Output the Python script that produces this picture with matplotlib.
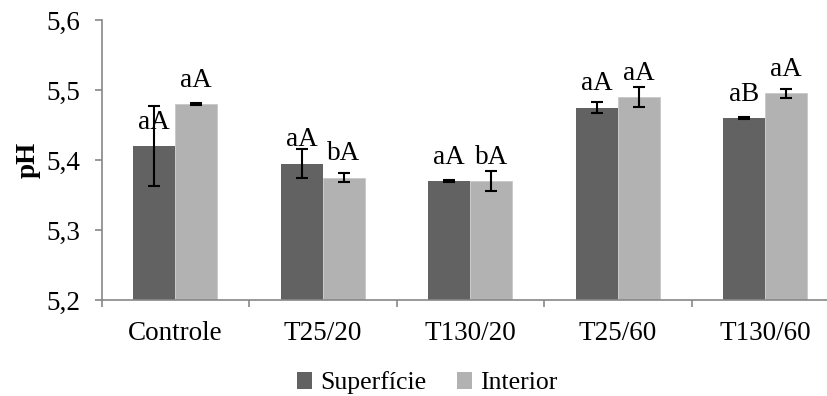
import matplotlib
matplotlib.use("Agg")
import matplotlib.pyplot as plt
from matplotlib.patches import Patch
from matplotlib.font_manager import FontProperties
import numpy as np

plt.rcParams['font.family'] = ['Liberation Serif', 'DejaVu Serif']

categories = ["Controle", "T25/20", "T130/20", "T25/60", "T130/60"]
superficie = [5.42, 5.395, 5.37, 5.475, 5.46]
interior = [5.48, 5.375, 5.37, 5.49, 5.495]
superficie_err = [0.057, 0.021, 0.001, 0.0075, 0.001]
interior_err = [0.001, 0.007, 0.014, 0.014, 0.007]
superficie_labels = ["aA", "aA", "aA", "aA", "aB"]
interior_labels = ["aA", "bA", "bA", "aA", "aA"]
yticks = [5.2, 5.3, 5.4, 5.5, 5.6]

dark = "#626262"
light = "#b2b2b2"
spine_color = "#888888"
FS = 19.5
families = ['Liberation Serif', 'DejaVu Serif']
fp = FontProperties(family=families, size=FS)
fp_leg = FontProperties(family=families, size=18.5)

W, H = 827, 396
fig = plt.figure(figsize=(W / 100, H / 100), dpi=100)
x0, x1, ybot, ytop = 101.5, 839, 300, 20
ax = fig.add_axes([x0 / W, 1 - ybot / H, (x1 - x0) / W, (ybot - ytop) / H])

x = np.arange(len(categories))
bw = 0.285
err_kw = dict(ecolor="black", elinewidth=1.5, capsize=4.5, capthick=1.5)
ax.bar(x - bw / 2, superficie, bw, color=dark, yerr=superficie_err,
       error_kw=err_kw, label="Superfície")
ax.bar(x + bw / 2, interior, bw, color=light, edgecolor="#c8c8c8", linewidth=0.6,
       yerr=interior_err, error_kw=err_kw, label="Interior")

offset = 0.0245
for i in range(len(categories)):
    ax.text(x[i] - bw / 2, superficie[i] + offset, superficie_labels[i],
            ha="center", va="baseline", fontproperties=fp)
    ax.text(x[i] + bw / 2, interior[i] + offset, interior_labels[i],
            ha="center", va="baseline", fontproperties=fp)

ax.set_xlim(-0.5, len(categories) - 0.5)
ax.set_ylim(5.2, 5.6)
ax.set_yticks(yticks)
ax.set_yticklabels([f"{v:.1f}".replace(".", ",") for v in yticks], fontproperties=fp)
ax.set_xticks(x)
ax.set_xticklabels(categories, fontproperties=fp)
ax.tick_params(axis="x", length=0, pad=15)
ax.set_xticks(np.arange(len(categories) + 1) - 0.5, minor=True)
ax.tick_params(axis="x", which="minor", length=5, color=spine_color, width=1.2)
ax.tick_params(axis="y", length=5, color=spine_color, width=1.2, pad=10)

for s in ["top", "right"]:
    ax.spines[s].set_visible(False)
for s in ["left", "bottom"]:
    ax.spines[s].set_color(spine_color)
    ax.spines[s].set_linewidth(1.2)

ax.set_ylabel("pH", fontsize=FS, fontweight="bold", family=families, labelpad=4)

handles = [Patch(facecolor=dark), Patch(facecolor=light)]
fig.legend(handles, ["Superfície", "Interior"], loc="center",
           bbox_to_anchor=(427 / W, 1 - 383 / H), ncol=2, frameon=False,
           prop=fp_leg, handlelength=0.6, handleheight=0.6, handletextpad=0.3,
           columnspacing=1.2)

fig.savefig("out.png", dpi=100)
